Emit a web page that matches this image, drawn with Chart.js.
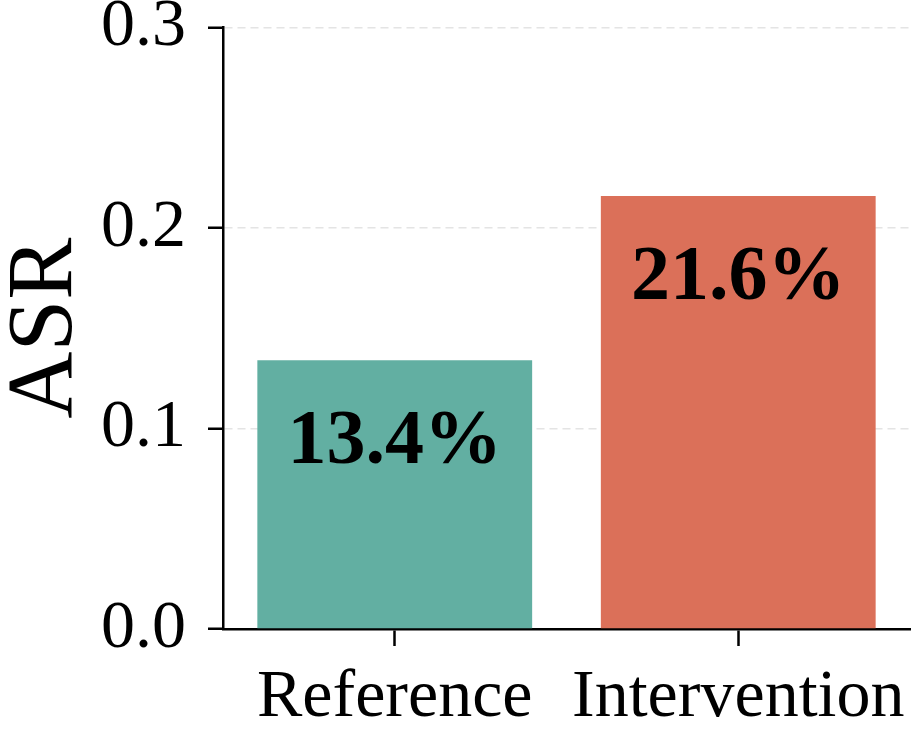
<!DOCTYPE html>
<html>
<head>
<meta charset="utf-8">
<script src="https://cdn.jsdelivr.net/npm/chart.js@4"></script>
<style>
  html, body { margin: 0; padding: 0; background: #fff; }
  #wrap { width: 913px; height: 734px; }
</style>
</head>
<body>
<div id="wrap"><canvas id="asrChart" width="913" height="734"></canvas></div>
<script>
const categories = ['Reference', 'Intervention'];
const asrValues = [0.134, 0.216];
const barColors = ['#62afa2', '#db7059'];
const yTicks = [0.0, 0.1, 0.2, 0.3];

const serif = '"Liberation Serif", "Times New Roman", serif';

// percentage label drawn inside each bar, near its top
const barLabels = {
  id: 'barLabels',
  afterDatasetsDraw(chart) {
    const ctx = chart.ctx;
    const meta = chart.getDatasetMeta(0);
    ctx.save();
    ctx.font = 'bold 78px ' + serif;
    ctx.fillStyle = '#000';
    ctx.textAlign = 'center';
    ctx.textBaseline = 'alphabetic';
    meta.data.forEach((bar, i) => {
      const v = chart.data.datasets[0].data[i];
      ctx.fillText((v * 100).toFixed(1) + '%', bar.x, bar.y + 103);
    });
    ctx.restore();
  }
};

new Chart(document.getElementById('asrChart').getContext('2d'), {
  type: 'bar',
  data: {
    labels: categories,
    datasets: [{
      label: 'ASR',
      data: asrValues,
      backgroundColor: barColors,
      borderWidth: 0,
      barPercentage: 0.8,
      categoryPercentage: 1.0
    }]
  },
  options: {
    responsive: false,
    animation: false,
    layout: { padding: { left: 0, right: 3, top: 0, bottom: 0 } },
    plugins: {
      legend: { display: false },
      tooltip: { enabled: false }
    },
    scales: {
      x: {
        offset: true,
        grid: {
          offset: false,
          drawOnChartArea: false,
          drawTicks: true,
          tickLength: 17,
          tickColor: '#000',
          tickWidth: 2.5,
          tickBorderDash: []
        },
        border: { color: '#000', width: 2.5 },
        ticks: {
          color: '#000',
          padding: 11,
          font: { family: serif, size: 68 }
        },
        afterFit(scale) {
          scale.height = 105;
          scale.paddingLeft = 0;
          scale.paddingRight = 0;
        }
      },
      y: {
        min: 0,
        max: 0.3,
        afterBuildTicks(scale) { scale.ticks = yTicks.map(v => ({ value: v })); },
        grid: {
          color: '#e4e4e4',
          lineWidth: 1.5,
          tickColor: '#000',
          tickWidth: 2.5,
          tickLength: 15,
          tickBorderDash: []
        },
        border: { color: '#000', width: 2.5, dash: [8, 5] },
        ticks: {
          color: '#000',
          padding: 22,
          font: { family: serif, size: 68 },
          callback: v => Number(v).toFixed(1)
        },
        title: {
          display: true,
          text: 'ASR',
          color: '#000',
          font: { family: serif, size: 93 },
          padding: { top: -9, bottom: 0 }
        },
        afterFit(scale) {
          scale.width = 223;
          scale.paddingTop = 27.5;
          scale.paddingBottom = 0;
        }
      }
    }
  },
  plugins: [barLabels]
});
</script>
</body>
</html>
